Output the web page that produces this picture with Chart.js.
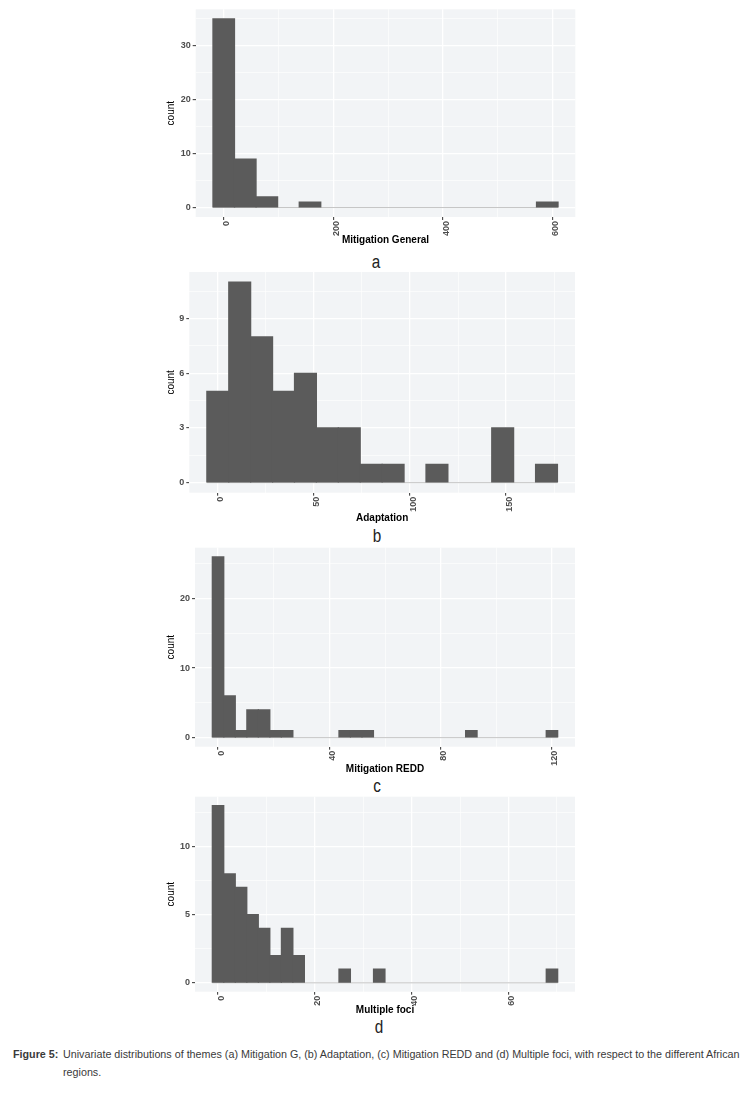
<!DOCTYPE html>
<html>
<head>
<meta charset="utf-8">
<title>Figure 5</title>
<script src="https://cdn.jsdelivr.net/npm/chart.js"></script>
<style>
body{
  margin:0;
  background:#fff;
  width:755px;
  height:1093px;
  position:relative;
  overflow:hidden;
  font-family:"Liberation Sans",Arial,sans-serif;
}
canvas{ position:absolute; }
.letter{
  position:absolute;
  font-family:"Liberation Sans",sans-serif;
  font-size:18px;
  color:#222;
  transform:translate(-50%,-50%) scaleX(0.85);
}
.cap{
  position:absolute;
  white-space:nowrap;
  font-family:"Liberation Sans",Arial,sans-serif;
  font-size:11px;
  line-height:14px;
  color:#3a3a3a;
  transform-origin:0 0;
}
</style>
</head>
<body>

<div class="letter" style="left:376px;top:262px">a</div>
<div class="letter" style="left:377px;top:536px">b</div>
<div class="letter" style="left:377px;top:786px">c</div>
<div class="letter" style="left:379px;top:1027px">d</div>

<div class="cap" id="capHead" style="left:13px;top:1047px;font-weight:bold">Figure 5:</div>
<div class="cap" id="capLine1" style="left:63px;top:1047px">Univariate distributions of themes (a) Mitigation G, (b) Adaptation, (c) Mitigation REDD and (d) Multiple foci, with respect to the different African</div>
<div class="cap" id="capLine2" style="left:63px;top:1065px">regions.</div>

<script>
// ================= DATA =================
// (a) Mitigation General - bin centres and counts
const mitGenBins   = [0, 39.33, 78.67, 118, 157.33, 196.67, 236, 275.33, 314.67, 354, 393.33, 432.67, 472, 511.33, 550.67, 590];
const mitGenCounts = [35, 9, 2, 0, 1, 0, 0, 0, 0, 0, 0, 0, 0, 0, 0, 1];
const mitGenXMajor = [0, 200, 400, 600];
const mitGenXMinor = [100, 300, 500];
const mitGenYMajor = [0, 10, 20, 30];
const mitGenYMinor = [5, 15, 25, 35];

// (b) Adaptation
const adaptBins   = [0, 11.4, 22.8, 34.2, 45.6, 57, 68.4, 79.8, 91.2, 102.6, 114, 125.4, 136.8, 148.2, 159.6, 171];
const adaptCounts = [5, 11, 8, 5, 6, 3, 3, 1, 1, 0, 1, 0, 0, 3, 0, 1];
const adaptXMajor = [0, 50, 100, 150];
const adaptXMinor = [25, 75, 125, 175];
const adaptYMajor = [0, 3, 6, 9];
const adaptYMinor = [1.5, 4.5, 7.5, 10.5];

// (c) Mitigation REDD
const reddBins   = [0, 4.14, 8.28, 12.41, 16.55, 20.69, 24.83, 28.97, 33.1, 37.24, 41.38, 45.52, 49.66, 53.79, 57.93,
                    62.07, 66.21, 70.34, 74.48, 78.62, 82.76, 86.9, 91.03, 95.17, 99.31, 103.45, 107.59, 111.72, 115.86, 120];
const reddCounts = [26, 6, 1, 4, 4, 1, 1, 0, 0, 0, 0, 1, 1, 1, 0, 0, 0, 0, 0, 0, 0, 0, 1, 0, 0, 0, 0, 0, 0, 1];
const reddXMajor = [0, 40, 80, 120];
const reddXMinor = [20, 60, 100];
const reddYMajor = [0, 10, 20];
const reddYMinor = [5, 15, 25];

// (d) Multiple foci
const multiBins   = [0, 2.38, 4.76, 7.14, 9.52, 11.9, 14.28, 16.66, 19.03, 21.41, 23.79, 26.17, 28.55, 30.93, 33.31,
                     35.69, 38.07, 40.45, 42.83, 45.21, 47.59, 49.97, 52.34, 54.72, 57.1, 59.48, 61.86, 64.24, 66.62, 69];
const multiCounts = [13, 8, 7, 5, 4, 2, 4, 2, 0, 0, 0, 1, 0, 0, 1, 0, 0, 0, 0, 0, 0, 0, 0, 0, 0, 0, 0, 0, 0, 1];
const multiXMajor = [0, 20, 40, 60];
const multiXMinor = [10, 30, 50, 70];
const multiYMajor = [0, 5, 10];
const multiYMinor = [2.5, 7.5, 12.5];

// ================= LAYOUT =================
const panels = [
  {bins:mitGenBins, counts:mitGenCounts, xMajor:mitGenXMajor, xMinor:mitGenXMinor, yMajor:mitGenYMajor, yMinor:mitGenYMinor,
   xRange:[-51.1, 641.1], yRange:[-1.75, 36.75], title:'Mitigation General',
   box:{left:195.7, right:575.3, top:9.3, bottom:217, titleY:240}},
  {bins:adaptBins, counts:adaptCounts, xMajor:adaptXMajor, xMinor:adaptXMinor, yMajor:adaptYMajor, yMinor:adaptYMinor,
   xRange:[-14.82, 185.82], yRange:[-0.55, 11.55], title:'Adaptation',
   box:{left:189.3, right:575, top:272, bottom:492.7, titleY:518}},
  {bins:reddBins, counts:reddCounts, xMajor:reddXMajor, xMinor:reddXMinor, yMajor:reddYMajor, yMinor:reddYMinor,
   xRange:[-8.28, 128.28], yRange:[-1.3, 27.3], title:'Mitigation REDD',
   box:{left:195, right:575, top:547.7, bottom:746.7, titleY:769}},
  {bins:multiBins, counts:multiCounts, xMajor:multiXMajor, xMinor:multiXMinor, yMajor:multiYMajor, yMinor:multiYMinor,
   xRange:[-4.76, 73.76], yRange:[-0.65, 13.65], title:'Multiple foci',
   box:{left:195, right:575, top:796.7, bottom:991.7, titleY:1010}}
];

const CANVAS_LEFT = 165;
const CANVAS_W = 420;

// caption is set in a narrow face in the paper: squeeze it to the same width
const capScale = 677 / document.getElementById('capLine1').offsetWidth;
['capHead','capLine1','capLine2'].forEach(id => {
  document.getElementById(id).style.transform = 'scaleX(' + capScale + ')';
});

// panel background
const panelBg = {
  id:'panelBg',
  beforeDraw(chart){
    const {ctx, chartArea:a} = chart;
    ctx.save();
    ctx.fillStyle = '#f2f4f6';
    ctx.fillRect(a.left, a.top, a.width, a.height);
    ctx.restore();
  }
};

function tickList(major, minor){
  return major.concat(minor).sort((a,b)=>a-b).map(v=>({value:v}));
}

function axisGrid(major){
  return {
    color:'#ffffff',
    lineWidth: c => major.includes(c.tick.value) ? 1.3 : 0.6,
    drawTicks:true,
    tickLength:3,
    tickWidth:1,
    tickColor: c => major.includes(c.tick.value) ? '#333333' : 'rgba(0,0,0,0)'
  };
}

Chart.defaults.font.family = '"Liberation Sans", Arial, sans-serif';

panels.forEach(p => {
  const b = p.box;
  const canvasTop = Math.round(b.top) - 10;
  const xAxisH = b.titleY - b.bottom + 6;
  const h = Math.ceil(b.bottom - canvasTop + xAxisH);

  const cv = document.createElement('canvas');
  cv.width = CANVAS_W;
  cv.height = h;
  cv.style.left = CANVAS_LEFT + 'px';
  cv.style.top = canvasTop + 'px';
  document.body.appendChild(cv);

  const w = p.bins[1] - p.bins[0];
  const edgeL = p.bins[0] - w / 2;
  const edgeR = p.bins[p.bins.length - 1] + w / 2;

  new Chart(cv, {
    type:'bar',
    data:{
      datasets:[
        {
          type:'bar',
          data:p.bins.map((x,i)=>({x:x, y:p.counts[i]})),
          backgroundColor:'#5b5b5b',
          borderWidth:0,
          barPercentage:1,
          categoryPercentage:1,
          // slight overlap so neighbouring bins don't show seams; empty bins stay empty
          inflateAmount: c => (c.raw && c.raw.y > 0) ? 0.6 : 0,
          order:0
        },
        {
          type:'line',
          data:[{x:edgeL, y:0}, {x:edgeR, y:0}],
          borderColor:'#c4c4c4',
          borderWidth:1,
          pointRadius:0,
          order:1
        }
      ]
    },
    options:{
      responsive:false,
      animation:false,
      events:[],
      layout:{padding:{top:b.top - canvasTop, right:CANVAS_LEFT + CANVAS_W - b.right, left:0, bottom:0}},
      plugins:{legend:{display:false}, tooltip:{enabled:false}},
      scales:{
        x:{
          type:'linear',
          offset:false,
          min:p.xRange[0],
          max:p.xRange[1],
          border:{display:false},
          grid:Object.assign(axisGrid(p.xMajor), {offset:false}),
          afterBuildTicks: s => { s.ticks = tickList(p.xMajor, p.xMinor); },
          afterFit: s => { s.height = xAxisH; },
          ticks:{
            autoSkip:false,
            minRotation:90,
            maxRotation:90,
            padding:1,
            labelOffset:3,
            color:'#4d4d4d',
            font:{size:9, weight:'bold'},
            callback: v => p.xMajor.includes(v) ? String(v) : ''
          },
          title:{
            display:true,
            text:p.title,
            color:'#000',
            padding:0,
            font:{size:10, weight:'bold'}
          }
        },
        y:{
          min:p.yRange[0],
          max:p.yRange[1],
          border:{display:false},
          grid:axisGrid(p.yMajor),
          afterBuildTicks: s => { s.ticks = tickList(p.yMajor, p.yMinor); },
          afterFit: s => { s.width = b.left - CANVAS_LEFT; },
          ticks:{
            autoSkip:false,
            padding:2,
            color:'#4d4d4d',
            font:{size:9, weight:'bold'},
            callback: v => p.yMajor.includes(v) ? String(v) : ''
          },
          title:{
            display:true,
            text:'count',
            color:'#000',
            padding:0,
            font:{size:10}
          }
        }
      }
    },
    plugins:[panelBg]
  });
});
</script>

</body>
</html>
